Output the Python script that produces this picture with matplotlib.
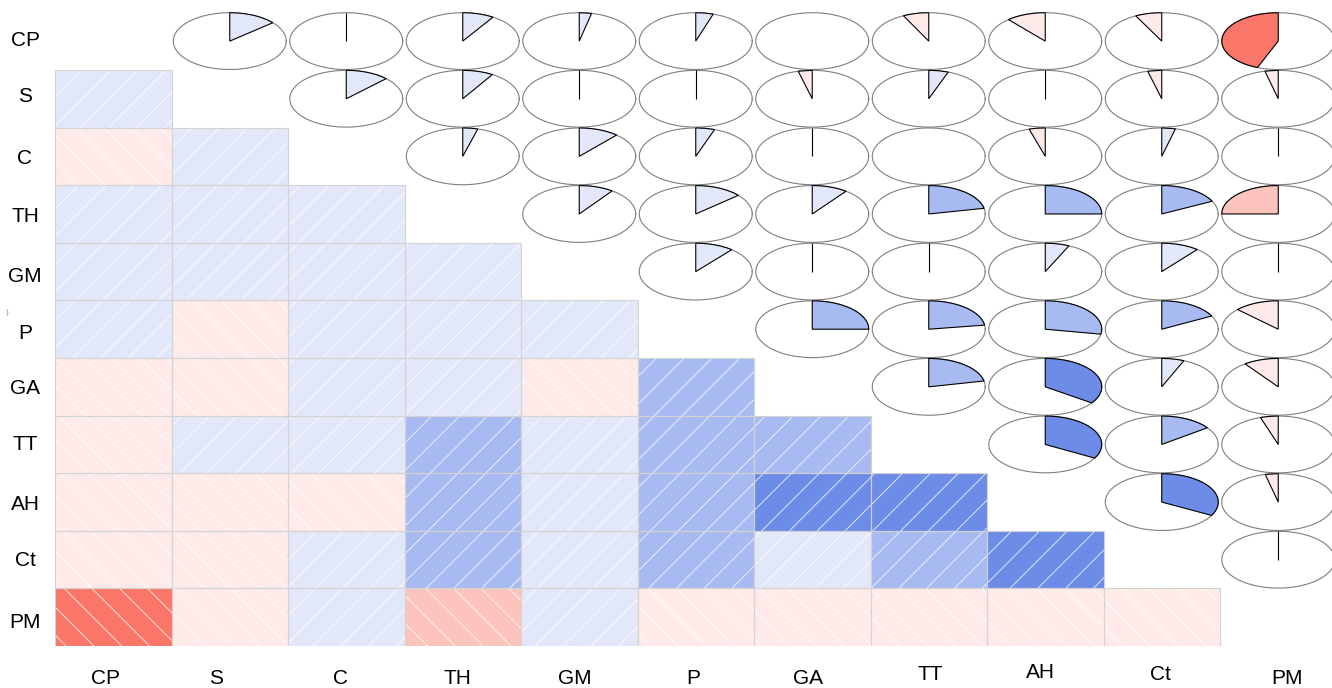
import numpy as np
import matplotlib
matplotlib.use("Agg")
import matplotlib.pyplot as plt
from matplotlib.patches import Rectangle, Polygon
from matplotlib.collections import LineCollection
from matplotlib.transforms import IdentityTransform
from matplotlib.colors import to_rgb

plt.rcParams['font.family'] = ['Liberation Sans', 'DejaVu Sans']

# ---- data: pairwise correlations, one list per variable (with the later variables) ----
labels = ["CP", "S", "C", "TH", "GM", "P", "GA", "TT", "AH", "Ct", "PM"]
r_CP = [0.138, -0.015, 0.090, 0.035, 0.050, -0.005, -0.074, -0.113, -0.076, -0.440]
r_S = [0.125, 0.088, 0.015, -0.015, -0.040, 0.056, -0.015, -0.040, -0.038]
r_C = [0.043, 0.115, 0.054, 0.015, 0.005, -0.046, 0.039, 0.015]
r_TH = [0.099, 0.136, 0.102, 0.218, 0.250, 0.176, -0.250]
r_GM = [0.110, -0.015, 0.015, 0.069, 0.108, 0.015]
r_P = [0.250, 0.227, 0.278, 0.173, -0.128]
r_GA = [0.217, 0.346, 0.064, -0.100]
r_TT = [0.330, 0.150, -0.051]
r_AH = [0.328, -0.037]
r_Ct = [-0.015]

rows = [r_CP, r_S, r_C, r_TH, r_GM, r_P, r_GA, r_TT, r_AH, r_Ct]
n = len(labels)
R = np.eye(n)
for i, vals in enumerate(rows):
    for k, v in enumerate(vals):
        j = i + 1 + k
        R[i, j] = R[j, i] = v

# ---- colour ramp: red - salmon - white - royalblue - navy, 14 bins over [-1, 1] ----
anchors = [np.array(to_rgb(c)) for c in ["red", "salmon", "white", "royalblue", "navy"]]


def ramp(k):
    out = []
    for i in range(k):
        s = (len(anchors) - 1) * i / (k - 1)
        a = min(int(s), len(anchors) - 2)
        f = s - a
        out.append(tuple(anchors[a] * (1 - f) + anchors[a + 1] * f))
    return out


NCOL = 14
pal = ramp(NCOL)
breaks = np.linspace(-1, 1, NCOL + 1)


def colour_for(r):
    k = int(np.searchsorted(breaks, r, side="left"))
    k = min(max(k, 1), NCOL)
    return pal[k - 1]


# ---- figure layout (pixels) ----
W, H, DPI = 1332, 688, 100
left_px, top_px, cell_w, cell_h = 55.0, 12.3, 116.5, 57.62

fig = plt.figure(figsize=(W / DPI, H / DPI), dpi=DPI)
ax = fig.add_axes([left_px / W, 1 - (top_px + n * cell_h) / H,
                   n * cell_w / W, n * cell_h / H])
ax.set_xlim(0, n)
ax.set_ylim(n, 0)
ax.axis("off")

HATCH_STEP = 27.8      # horizontal spacing of shading lines, px
HATCH_PHASE_POS = H - 13.7
HATCH_PHASE_NEG = H + 3.9


def hatch_lines(x0, y0, x1, y1, positive):
    segs = []
    pad = (y1 - y0) + 5
    if positive:
        # lines y = x + c
        cmin, cmax = y0 - x1, y1 - x0
        base = HATCH_PHASE_POS
    else:
        # lines y = -x + c
        cmin, cmax = x0 + y0, x1 + y1
        base = HATCH_PHASE_NEG
    k0 = int(np.floor((cmin - base) / HATCH_STEP)) - 1
    k1 = int(np.ceil((cmax - base) / HATCH_STEP)) + 1
    for k in range(k0, k1 + 1):
        c = base + k * HATCH_STEP
        xa, xb = x0 - pad, x1 + pad
        if positive:
            segs.append([(xa, xa + c), (xb, xb + c)])
        else:
            segs.append([(xa, c - xa), (xb, c - xb)])
    return segs


# ---- lower triangle: shaded cells ----
for i in range(n):
    for j in range(i):
        r = R[i, j]
        fill = Rectangle((j, i), 1, 1, facecolor=colour_for(r), edgecolor="none", zorder=1)
        ax.add_patch(fill)
        (px0, py0), (px1, py1) = ax.transData.transform([(j, i + 1), (j + 1, i)])
        lc = LineCollection(hatch_lines(px0, py0, px1, py1, r > 0),
                            colors="white", linewidths=0.6, alpha=0.9,
                            transform=IdentityTransform(), zorder=2)
        ax.add_collection(lc, autolim=False)
        lc.set_clip_path(fill)
        ax.add_patch(Rectangle((j, i), 1, 1, facecolor="none",
                               edgecolor="#D3D3D3", linewidth=0.8, zorder=3))

# ---- upper triangle: pies ----
RX, RY = 0.485, 0.493
circ_t = np.linspace(0, 2 * np.pi, 60)
for i in range(n):
    for j in range(i + 1, n):
        r = R[i, j]
        cx, cy = j + 0.5, i + 0.5
        ax.plot(cx + RX * np.cos(circ_t), cy - RY * np.sin(circ_t),
                color="#7f7f7f", linewidth=0.8, zorder=4, clip_on=False)
        segs = int(round(60 * abs(r)))
        if segs > 0:
            a = np.linspace(np.pi / 2, np.pi / 2 - 2 * np.pi * r, segs)
            pts = np.column_stack([cx + RX * np.cos(a), cy - RY * np.sin(a)])
            pts = np.vstack([pts, [cx, cy], pts[0]])
            ax.add_patch(Polygon(pts, closed=True, facecolor=colour_for(r),
                                 edgecolor="black", linewidth=0.8, zorder=5,
                                 clip_on=False))

# ---- variable names ----
FS = 15
CAP = 7.5
row_label_y = [38, 95, 156, 214, 275, 332, 387, 442, 503, 558, 620]
col_label_dx = [-8, -14, -6, -5, -4, -2, -4, 1, -5, -1, 9]
col_label_y = [676, 677, 677, 677, 676, 677, 676, 672, 671, 673, 677]

for i, name in enumerate(labels):
    fig.text(25 / W, 1 - (row_label_y[i] + CAP) / H, name, fontsize=FS,
             ha="center", va="baseline", color="black")
    cx_px = left_px + (i + 0.5) * cell_w + col_label_dx[i]
    fig.text(cx_px / W, 1 - (col_label_y[i] + CAP) / H, name, fontsize=FS,
             ha="center", va="baseline", color="black")

fig.text(7 / W, 1 - 313 / H, ")", fontsize=6, color="#888888", ha="center", va="center")

fig.savefig("out.png", dpi=DPI)
